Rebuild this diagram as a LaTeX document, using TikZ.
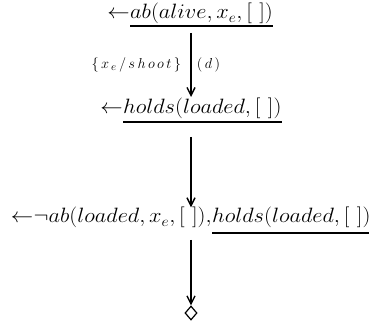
\documentclass[tikz,border=0pt]{standalone}
\usepackage{graphicx}
\usetikzlibrary{arrows.meta,shapes.geometric}
\tikzset{
  term/.style={inner sep=0pt, font=\fontsize{20}{24}\selectfont},
  lab/.style={inner sep=0pt, font=\fontsize{15}{18}\selectfont},
  goalarrow/.style={line width=1.8pt, -{Straight Barb[length=8pt,width=8pt,line width=1.4pt]}},
  uline/.style={line width=2.4pt},
  empty/.style={diamond, draw, line width=1.2pt, inner sep=0pt, minimum width=12pt, minimum height=14pt}
}
% goal text is set slightly wide
\newcommand{\wide}[1]{\scalebox{1.08}[1]{$#1$}}
\newcommand{\emptylist}{[\,\,]}
\begin{document}
\begin{tikzpicture}[x=1pt,y=-1pt]
  \useasboundingbox (0,0) rectangle (369,328);
  % first goal
  \node[term, anchor=base west] (t1) at (130,19) {\wide{ab(alive,x_e,\emptylist)}};
  \node[term, anchor=base east] (a1) at (t1.base west) {\wide{\leftarrow}};
  \draw[uline] (t1.west |- 0,26) -- (t1.east |- 0,26);
  % second goal
  \node[term, anchor=base west] (t2) at (123,114) {\wide{holds(loaded,\emptylist)}};
  \node[term, anchor=base east] (a2) at (t2.base west) {\wide{\leftarrow}};
  \draw[uline] (t2.west |- 0,122) -- (t2.east |- 0,122);
  % third goal
  \node[term, anchor=base west] (t3) at (212,223) {\wide{holds(loaded,\emptylist)}};
  \node[term, anchor=base east] (c3) at (t3.base west) {\wide{\neg ab(loaded,x_e,\emptylist),}};
  \node[term, anchor=base east] (a3) at (c3.base west) {\wide{\leftarrow}};
  \draw[uline] (t3.west |- 0,233) -- (t3.east |- 0,233);
  % empty goal
  \node[empty] (q) at (191,313) {};
  % derivation steps
  \coordinate (ax) at (191,0);
  \draw[goalarrow] (ax |- 0,33) -- (ax |- 0,97)
    node[lab, midway, left=9pt] {$\{\,x_{\,e}\,/\,s\,h\,o\,o\,t\,\}$}
    node[lab, midway, right=5pt] {$(\,d\,)$};
  \draw[goalarrow] (ax |- 0,137) -- (ax |- c3.north);
  \draw[goalarrow] (ax |- 0,240) -- (q.north);
\end{tikzpicture}
\end{document}
